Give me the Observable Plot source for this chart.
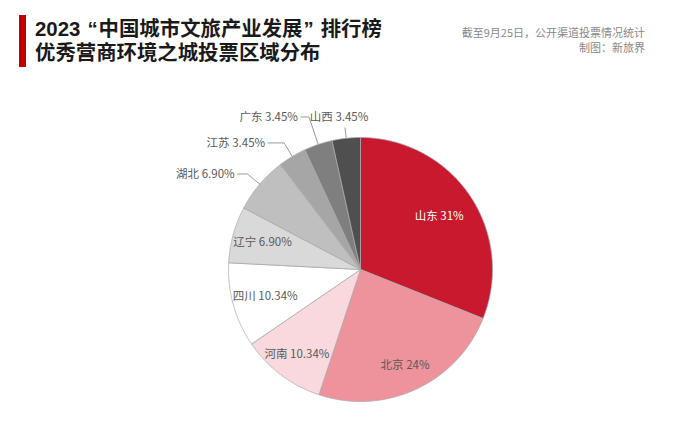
<!DOCTYPE html>
<html><head><meta charset="utf-8">
<script src="https://cdn.jsdelivr.net/npm/d3@7"></script>
<script src="https://cdn.jsdelivr.net/npm/@observablehq/plot@0.6"></script>
<style>
body{margin:0;background:#fff;font-family:"Noto Sans CJK SC","Noto Sans",sans-serif;}
#wrap{position:relative;width:700px;height:432px;overflow:hidden;background:#fff}
#header{position:relative;height:70px}
.bar{position:absolute;left:19px;top:15px;width:7px;height:52px;background:#c00000}
.title{position:absolute;left:35px;font-family:"Liberation Sans","Noto Sans CJK SC",sans-serif;font-size:20.4px;height:24px;line-height:24px;font-weight:bold;color:#1a1a1a;white-space:nowrap}
.t1{top:17px}.t2{top:41px}
.qo{margin:0 1px 0 7px}
.qc{margin:0 7px 0 1px}
.note{position:absolute;right:55px;font-size:11px;height:15px;line-height:15px;color:#888;text-align:right;white-space:nowrap}
.n1{top:25px}.n2{top:40px}
#chart svg{display:block}
</style></head><body>
<div id="wrap">
  <div id="header">
    <div class="bar"></div>
    <div class="title t1">2023<span class="qo">“</span>中国城市文旅产业发展<span class="qc">”</span>排行榜</div>
    <div class="title t2">优秀营商环境之城投票区域分布</div>
    <div class="note n1">截至9月25日，公开渠道投票情况统计</div>
    <div class="note n2">制图：新旅界</div>
  </div>
  <div id="chart"></div>
</div>
<script>
// ---- data ----
const regions = ["山东","北京","河南","四川","辽宁","湖北","江苏","广东","山西"];
const shares = [31, 24, 10.34, 10.34, 6.90, 6.90, 3.45, 3.45, 3.45];
const shareLabels = ["31%","24%","10.34%","10.34%","6.90%","6.90%","3.45%","3.45%","3.45%"];
const sliceColors = ["#c8192e","#ee929c","#f9d9dd","#ffffff","#d9d9d9","#bfbfbf","#a6a6a6","#7f7f7f","#4f4f4f"];
const outsideRegions = ["湖北","江苏","广东","山西"];

// ---- layout ----
const W = 700, H = 362;
const cx = 360, cy = 199, R = 132;
const insideRadius = {"山东": 0.72, "北京": 0.8, "河南": 0.8, "四川": 0.75, "辽宁": 0.77};
const outsideLayout = {
  "湖北": {k: 1.12, h: 10, mode: "left"},
  "江苏": {k: 1.12, h: 16, mode: "left"},
  "广东": {k: 1.22, h: 8,  mode: "left"},
  "山西": {k: 1.08, h: 0,  mode: "above"}
};

const rows = regions.map((name, i) => ({name, value: shares[i], label: `${name} ${shareLabels[i]}`, color: sliceColors[i]}));
const arcs = d3.pie().sort(null).value(d => d.value)(rows);
const pt = (a, r) => [cx + r * Math.sin(a), cy - r * Math.cos(a)];

// slice outlines
const slicePts = [];
arcs.forEach(a => {
  const d = a.data;
  const push = ([x, y]) => slicePts.push({name: d.name, color: d.color, x, y});
  push([cx, cy]);
  const n = Math.max(4, Math.ceil((a.endAngle - a.startAngle) / 0.005));
  for (let j = 0; j <= n; j++) push(pt(a.startAngle + (a.endAngle - a.startAngle) * j / n, R));
  push([cx, cy]);
});

// labels
const insideLabels = [], outsideLabels = [], leaderPts = [];
arcs.forEach(a => {
  const d = a.data, mid = (a.startAngle + a.endAngle) / 2;
  if (!outsideRegions.includes(d.name)) {
    const [x, y] = pt(mid, R * insideRadius[d.name]);
    insideLabels.push({x, y, text: d.label, fill: d.name === "山东" ? "#ffffff" : "#595959"});
  } else {
    const L = outsideLayout[d.name];
    const e = pt(mid, R), b = pt(mid, R * L.k);
    const end = [b[0] - L.h, b[1]];
    [e, b, end].forEach(([x, y]) => leaderPts.push({name: d.name, x, y}));
    if (L.mode === "left") outsideLabels.push({x: end[0] - 3, y: end[1], text: d.label, anchor: "end"});
    else outsideLabels.push({x: b[0] - 6, y: b[1] - 10, text: d.label, anchor: "middle"});
  }
});

const chart = Plot.plot({
  width: W, height: H,
  margin: 0,
  x: {domain: [0, W], range: [0, W], axis: null},
  y: {domain: [0, H], range: [0, H], axis: null},
  color: {type: "identity"},
  style: {fontFamily: '"Noto Sans CJK SC","Noto Sans",sans-serif', background: "#fff"},
  marks: [
    Plot.line(slicePts, {x: "x", y: "y", z: "name", fill: "color", stroke: "#a9a9a9", strokeWidth: 0.8, curve: "linear"}),
    Plot.line(leaderPts, {x: "x", y: "y", z: "name", stroke: "#9a9a9a", strokeWidth: 1}),
    Plot.text(insideLabels, {x: "x", y: "y", text: "text", fill: "fill", fontSize: 11.5}),
    Plot.text(outsideLabels.filter(d => d.anchor === "end"), {x: "x", y: "y", text: "text", fill: "#595959", fontSize: 11.5, textAnchor: "end"}),
    Plot.text(outsideLabels.filter(d => d.anchor === "middle"), {x: "x", y: "y", text: "text", fill: "#595959", fontSize: 11.5, textAnchor: "middle"})
  ]
});
document.getElementById("chart").appendChild(chart);
</script>
</body></html>
